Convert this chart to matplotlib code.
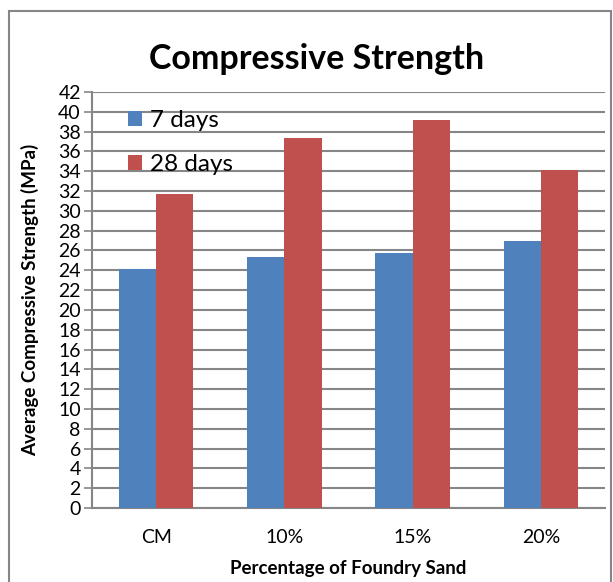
import matplotlib.pyplot as plt
import numpy as np
from matplotlib.patches import Rectangle

categories = ["CM", "10%", "15%", "20%"]
days7 = [24.1, 25.3, 25.7, 27.0]
days28 = [31.7, 37.4, 39.2, 34.1]
yticks = list(range(0, 43, 2))

plt.rcParams['font.family'] = ['Lato', 'DejaVu Sans']

fig = plt.figure(figsize=(6.13, 5.82), dpi=100)
ax = fig.add_axes([0.150, 0.127, 0.837, 0.715])

# outer chart frame
fig.patches.append(Rectangle((9 / 613, -0.05), 602 / 613, 1 - 11 / 582 + 0.05,
                             transform=fig.transFigure, fill=False,
                             edgecolor='#868686', linewidth=1.5))

x = np.arange(len(categories))
w = 0.29
ax.bar(x - w / 2, days7, w, color='#4F81BD', label='7 days', zorder=3)
ax.bar(x + w / 2, days28, w, color='#C0504D', label='28 days', zorder=3)

ax.set_xlim(-0.5, 3.5)
ax.set_ylim(0, 42)
ax.set_yticks(yticks)
ax.set_xticks(x)
ax.set_xticklabels(categories, fontsize=14)
ax.tick_params(axis='y', labelsize=14, length=6, color='#868686', width=1.2, pad=2)
ax.tick_params(axis='x', length=0, pad=15)
ax.yaxis.grid(True, color='#868686', linewidth=1.5, zorder=0)
for s in ['top', 'right']:
    ax.spines[s].set_visible(False)
ax.spines['left'].set_color('#868686')
ax.spines['bottom'].set_color('#868686')
ax.spines['left'].set_linewidth(1.5)
ax.spines['bottom'].set_linewidth(1.5)

ax.set_ylabel('Average Compressive Strength (MPa)', fontsize=13.5, fontweight='bold', labelpad=14)
ax.set_xlabel('Percentage of Foundry Sand', fontsize=13.5, fontweight='bold', labelpad=10)
fig.text(0.516, 0.898, 'Compressive Strength', fontsize=24.5, fontweight='bold',
         ha='center', va='center')

ax.legend(loc='upper left', bbox_to_anchor=(0.052, 0.98), frameon=False,
          fontsize=17.5, handlelength=0.55, handleheight=0.55, handletextpad=0.35,
          labelspacing=0.95, borderaxespad=0)

fig.savefig('out.png', dpi=100)
